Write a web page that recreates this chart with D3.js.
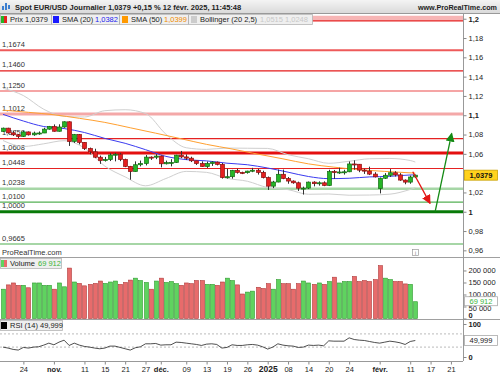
<!DOCTYPE html>
<html>
<head>
<meta charset="utf-8">
<script src="https://cdn.jsdelivr.net/npm/d3@7"></script>
<style>
body { margin: 0; background: #fff; }
svg { display: block; font-family: "Liberation Sans", Arial, sans-serif; }
</style>
</head>
<body>
<svg id="graph" width="500" height="375"></svg>
<script>
// séances : du 18/10/2024 au 28/02/2025, sans week-ends ni jours fériés
const premierJour = "2024-10-18";
const dernierJour = "2025-02-28";
const feries = ["2024-12-25", "2025-01-01"];

// bougies EUR/USD journalières
const ouverture = [1.0833,1.0866,1.0817,1.0797,1.0781,1.0827,1.0797,1.0815,1.0816,1.0856,
  1.0884,1.0834,1.0878,1.0932,1.0729,1.0800,1.0719,1.0655,1.0621,1.0565,
  1.0530,1.0541,1.0588,1.0596,1.0542,1.0470,1.0417,1.0487,1.0500,1.0566,
  1.0565,1.0577,1.0497,1.0509,1.0511,1.0586,1.0568,1.0555,1.0528,1.0500,
  1.0469,1.0500,1.0514,1.0491,1.0354,1.0363,1.0428,1.0408,1.0405,1.0421,
  1.0430,1.0408,1.0354,1.0265,1.0308,1.0388,1.0344,1.0318,1.0300,1.0244,
  1.0245,1.0307,1.0291,1.0300,1.0272,1.0416,1.0410,1.0412,1.0414,1.0495,
  1.0492,1.0431,1.0422,1.0390,1.0240,1.0347,1.0378,1.0404,1.0382,1.0328,
  1.0307,1.0360];
const haut = [1.0872,1.0870,1.0836,1.0805,1.0838,1.0832,1.0830,1.0832,1.0870,1.0889,
  1.0905,1.0906,1.0937,1.0937,1.0806,1.0805,1.0722,1.0665,1.0653,1.0582,
  1.0568,1.0607,1.0610,1.0610,1.0550,1.0475,1.0522,1.0530,1.0587,1.0574,
  1.0597,1.0583,1.0530,1.0545,1.0590,1.0630,1.0594,1.0570,1.0530,1.0522,
  1.0520,1.0524,1.0520,1.0505,1.0445,1.0434,1.0445,1.0415,1.0425,1.0455,
  1.0445,1.0425,1.0365,1.0320,1.0437,1.0437,1.0360,1.0325,1.0312,1.0260,
  1.0313,1.0316,1.0315,1.0315,1.0435,1.0433,1.0456,1.0435,1.0521,1.0533,
  1.0494,1.0445,1.0467,1.0410,1.0355,1.0400,1.0442,1.0420,1.0400,1.0335,
  1.0375,1.0385];
const bas = [1.0826,1.0810,1.0785,1.0761,1.0775,1.0790,1.0787,1.0798,1.0815,1.0850,
  1.0830,1.0830,1.0870,1.0682,1.0713,1.0698,1.0640,1.0595,1.0555,1.0496,
  1.0520,1.0525,1.0522,1.0524,1.0462,1.0332,1.0415,1.0470,1.0480,1.0537,
  1.0545,1.0460,1.0490,1.0470,1.0505,1.0555,1.0537,1.0515,1.0485,1.0466,
  1.0454,1.0475,1.0480,1.0343,1.0343,1.0343,1.0395,1.0390,1.0395,1.0410,
  1.0385,1.0345,1.0226,1.0245,1.0305,1.0337,1.0290,1.0290,1.0215,1.0178,
  1.0235,1.0263,1.0270,1.0265,1.0266,1.0340,1.0392,1.0385,1.0410,1.0435,
  1.0410,1.0392,1.0380,1.0355,1.0190,1.0340,1.0360,1.0365,1.0320,1.0285,
  1.0290,1.0350];
const cloture = [1.0866,1.0817,1.0797,1.0781,1.0827,1.0797,1.0815,1.0816,1.0856,1.0884,
  1.0834,1.0878,1.0932,1.0729,1.0800,1.0719,1.0655,1.0621,1.0565,1.0530,
  1.0541,1.0588,1.0596,1.0542,1.0470,1.0417,1.0487,1.0500,1.0566,1.0565,
  1.0577,1.0497,1.0509,1.0511,1.0586,1.0568,1.0555,1.0528,1.0500,1.0469,
  1.0500,1.0514,1.0491,1.0354,1.0363,1.0428,1.0408,1.0405,1.0421,1.0430,
  1.0408,1.0354,1.0265,1.0308,1.0388,1.0344,1.0318,1.0300,1.0244,1.0245,
  1.0307,1.0291,1.0300,1.0272,1.0416,1.0410,1.0412,1.0414,1.0495,1.0492,
  1.0431,1.0422,1.0390,1.0362,1.0347,1.0378,1.0404,1.0382,1.0328,1.0307,
  1.0360,1.0379];
const cloturePrecedente = 1.0833;

// volume et RSI (14)
const volume = [122000,140000,148000,138000,138000,128000,148000,148000,138000,138000,
  122000,148000,132000,210000,152000,146000,136000,142000,146000,156000,
  146000,152000,156000,142000,150000,160000,168000,158000,150000,122000,
  156000,168000,150000,154000,145000,138000,148000,145000,158000,158000,
  142000,142000,138000,152000,168000,158000,140000,102000,110000,114000,
  130000,125000,145000,122000,162000,145000,145000,122000,145000,156000,
  148000,142000,148000,142000,154000,172000,148000,154000,154000,175000,
  154000,158000,154000,162000,220000,168000,162000,154000,154000,144000,
  142000,69912];
const rsi = [30,27,23,21,29,27,30,31,36,42,37,45,51,35,42,36,32,30,27,25,
  27,33,33,29,25,21,28,31,40,40,41,36,37,37,45,44,42,40,38,35,
  39,40,38,27,29,37,35,35,37,38,36,31,24,30,40,36,34,33,29,30,
  36,35,36,34,49,48,48,48,58,53,51,50,47,44,42,45,48,46,43,38,
  47,50];

// moyennes mobiles et Bollinger (20 2,5)
const idxSma20 = [0,4,8,12,16,20,24,28,32,36,40,44,48,52,56,60,64,68,72,76,80,81];
const sma20 = [1.1009,1.0940,1.0883,1.0862,1.0821,1.0760,1.0709,1.0643,1.0574,1.0540,1.0527,
  1.0503,1.0487,1.0453,1.0410,1.0365,1.0343,1.0347,1.0361,1.0367,1.0381,1.0382];
const bollHaut = [1.1280,1.1204,1.1062,1.0988,1.0982,1.1047,1.1057,1.1018,1.0804,1.0663,1.0646,
  1.0660,1.0658,1.0656,1.0591,1.0549,1.0502,1.0523,1.0549,1.0552,1.0531,1.0515];
const bollBas = [1.0738,1.0676,1.0704,1.0736,1.0660,1.0473,1.0361,1.0269,1.0344,1.0418,1.0408,
  1.0346,1.0316,1.0250,1.0229,1.0181,1.0184,1.0171,1.0173,1.0182,1.0231,1.0248];
const idxSma50 = [0,5,10,15,20,25,30,35,40,45,49,55,60,65,70,75,81];
const sma50 = [1.1053,1.1030,1.1005,1.0968,1.0926,1.0870,1.0814,1.0756,1.0698,1.0650,1.0608,
  1.0548,1.0496,1.0462,1.0436,1.0418,1.0400];

// niveaux horizontaux tracés sur le graphique
const niveaux = [1.2005, 1.1978, 1.1674, 1.1460, 1.1250, 1.1012, 1.0758, 1.0608, 1.0448, 1.0238, 1.0100, 1.0000, 0.9665];
const niveauxTexte = ["", "", "1,1674", "1,1460", "1,1250", "1,1012", "1,0758", "1,0608", "1,0448", "1,0238", "1,0100", "1,0000", "0,9665"];

// flèches (séance, prix) : début -> fin
const flecheRouge = [[80.5, 1.0415], [83.9, 1.0087]];
const flecheVerte = [[84.9, 1.0000], [88.15, 1.0812]];

// axe des dates
const tickDates = ["2024-10-24","2024-11-01","2024-11-11","2024-11-15","2024-11-21","2024-11-27",
  "2024-12-02","2024-12-09","2024-12-13","2024-12-19","2024-12-26","2025-01-02","2025-01-08",
  "2025-01-14","2025-01-20","2025-01-24","2025-02-03","2025-02-11","2025-02-17","2025-02-21"];
const tickTextes = ["24","nov.","11","15","21","27","déc.","09","13","19","26","2025","08",
  "14","20","24","févr.","11","17","21"];
const tickMois = ["nov.","déc.","2025","févr."];

// ---------------------------------------------------------------
const fmtJour = d3.utcFormat("%Y-%m-%d");
const seances = d3.utcDay.range(new Date(premierJour), d3.utcDay.offset(new Date(dernierJour), 1))
  .filter(d => d.getUTCDay() != 0 && d.getUTCDay() != 6 && !feries.includes(fmtJour(d)))
  .map(fmtJour);

const bougies = ouverture.map((o, i) => ({
  i: i, o: o, h: haut[i], l: bas[i], c: cloture[i], v: volume[i], rsi: rsi[i],
  hausse: cloture[i] >= (i == 0 ? cloturePrecedente : cloture[i - 1])
}));

const fr = d3.formatLocale({decimal: ",", thousands: " ", grouping: [3], currency: ["", "€"]});
const virgule = v => String(+v.toFixed(4)).replace(".", ",");

const svg = d3.select("#graph");
const droite = 463;

const x = d3.scaleLinear().domain([-0.59, 90.37]).range([0, droite]);
const yPrix = d3.scaleLinear().domain([0.9531, 1.2049]).range([257, 14]);
const yVol = d3.scaleLinear().domain([0, 252000]).range([318.5, 258]);
const yRsi = d3.scaleLinear().domain([-12.1, 112.1]).range([361, 320]);

// fond du bandeau
const defs = svg.append("defs");
const grad = defs.append("linearGradient").attr("id", "bandeau").attr("x1", 0).attr("y1", 0).attr("x2", 0).attr("y2", 1);
grad.append("stop").attr("offset", 0).attr("stop-color", "#f4f4f4");
grad.append("stop").attr("offset", 1).attr("stop-color", "#d8d8d8");

svg.append("rect").attr("x", 0).attr("y", 0).attr("width", 500).attr("height", 14).attr("fill", "url(#bandeau)");
svg.append("line").attr("x1", 0).attr("x2", 500).attr("y1", 13.5).attr("y2", 13.5).attr("stroke", "#999");

// icône du bandeau
[[2, 6, 4], [5, 3, 7], [8, 5, 4]].forEach(b => {
  svg.append("rect").attr("x", b[0]).attr("y", b[1]).attr("width", 2).attr("height", b[2]).attr("fill", "#3d7fd0");
});
svg.append("text").attr("x", 15).attr("y", 9.5).attr("font-size", 7.5).attr("font-weight", "bold").attr("fill", "#222")
  .text("Spot EUR/USD Journalier 1,0379 +0,15 % 12 févr. 2025, 11:45:48");
svg.append("text").attr("x", 497).attr("y", 9.5).attr("font-size", 7.2).attr("font-weight", "bold").attr("fill", "#222")
  .attr("text-anchor", "end").text("www.ProRealTime.com");

// séparations des panneaux
[257.5, 319.5].forEach(y => {
  svg.append("line").attr("x1", 0).attr("x2", 500).attr("y1", y).attr("y2", y).attr("stroke", "#a0a0a0");
});

// ------------------- panneau des prix -------------------
const prix = svg.append("g");
const styleNiveaux = [
  {c: "#f7b5b5", w: 5}, {c: "#e52222", w: 1.2}, {c: "#ee5a5a", w: 2}, {c: "#e41b1b", w: 1.2},
  {c: "#f5a5a5", w: 2}, {c: "#f4a8a8", w: 3}, {c: "#e52222", w: 1.2}, {c: "#e40f0f", w: 3},
  {c: "#e52222", w: 1}, {c: "#a6d6a6", w: 2.5}, {c: "#55b055", w: 1.2}, {c: "#087a08", w: 3},
  {c: "#a6d6a6", w: 2}
];
prix.selectAll(".niveau")
  .data(niveaux)
  .join("line")
  .attr("class", "niveau")
  .attr("x1", 0).attr("x2", droite)
  .attr("y1", d => yPrix(d)).attr("y2", d => yPrix(d))
  .attr("stroke", (d, i) => styleNiveaux[i].c)
  .attr("stroke-width", (d, i) => styleNiveaux[i].w);

prix.selectAll(".niveauTexte")
  .data(niveaux)
  .join("text")
  .attr("class", "niveauTexte")
  .attr("x", 2)
  .attr("y", d => yPrix(d) - 3.5)
  .attr("font-size", 7.5)
  .attr("fill", "#333")
  .text((d, i) => niveauxTexte[i]);

// Bollinger et moyennes mobiles
const ligne = (idx, vals) => d3.line().curve(d3.curveMonotoneX)
  .x((d, k) => x(idx[k])).y(d => yPrix(d))(vals);
prix.append("path").attr("d", ligne(idxSma20, bollHaut)).attr("fill", "none").attr("stroke", "#cfcfcf").attr("stroke-width", 1);
prix.append("path").attr("d", ligne(idxSma20, bollBas)).attr("fill", "none").attr("stroke", "#cfcfcf").attr("stroke-width", 1);
prix.append("path").attr("d", ligne(idxSma50, sma50)).attr("fill", "none").attr("stroke", "#ffa030").attr("stroke-width", 1);
prix.append("path").attr("d", ligne(idxSma20, sma20)).attr("fill", "none").attr("stroke", "#3b3bf0").attr("stroke-width", 1);

// bougies
const bougie = prix.selectAll(".bougie")
  .data(bougies)
  .join("g")
  .attr("class", "bougie")
  .attr("transform", d => `translate(${Math.round(x(d.i)) + 0.5},0)`);
bougie.append("line")
  .attr("y1", d => yPrix(d.h)).attr("y2", d => yPrix(d.l))
  .attr("stroke", "#333").attr("stroke-width", 1);
bougie.append("rect")
  .attr("x", -2).attr("width", 4)
  .attr("y", d => yPrix(Math.max(d.o, d.c)))
  .attr("height", d => Math.max(1, Math.abs(yPrix(d.o) - yPrix(d.c))))
  .attr("fill", d => d.c >= d.o ? "#26b526" : "#e52020")
  .attr("stroke", d => d.c >= d.o ? "#136b13" : "#8a1010")
  .attr("stroke-width", 0.7);

// flèches
const marque = (id, coul) => {
  defs.append("marker").attr("id", id).attr("viewBox", "0 0 10 10").attr("refX", 9).attr("refY", 5)
    .attr("markerWidth", 7).attr("markerHeight", 7).attr("orient", "auto")
    .append("path").attr("d", "M0,0 L10,5 L0,10 z").attr("fill", coul);
};
marque("pointeRouge", "#e41414");
marque("pointeVerte", "#148a14");
[[flecheRouge, "#e41414", "pointeRouge"], [flecheVerte, "#148a14", "pointeVerte"]].forEach(f => {
  prix.append("line")
    .attr("x1", x(f[0][0][0])).attr("y1", yPrix(f[0][0][1]))
    .attr("x2", x(f[0][1][0])).attr("y2", yPrix(f[0][1][1]))
    .attr("stroke", f[1]).attr("stroke-width", 1.3)
    .attr("marker-end", `url(#${f[2]})`);
});

// ProRealTime.com et icône info
svg.append("text").attr("x", 2).attr("y", 255).attr("font-size", 7.5).attr("fill", "#333").text("ProRealTime.com");
svg.append("rect").attr("x", 412.5).attr("y", 249.5).attr("width", 6).attr("height", 6).attr("fill", "#fff").attr("stroke", "#999").attr("stroke-width", 0.7);
svg.append("text").attr("x", 415.5).attr("y", 254.8).attr("font-size", 5).attr("text-anchor", "middle").attr("fill", "#777").text("i");

// ------------------- volume -------------------
svg.append("g").selectAll("rect")
  .data(bougies)
  .join("rect")
  .attr("x", d => Math.round(x(d.i)) - 1.5)
  .attr("width", 4)
  .attr("y", d => yVol(d.v))
  .attr("height", d => yVol(0) - yVol(d.v))
  .attr("fill", d => d.hausse ? "#5fd35f" : "#e86b6b")
  .attr("stroke", d => d.hausse ? "#2f9a2f" : "#b03a3a")
  .attr("stroke-width", 0.6);

// ------------------- RSI -------------------
[30, 70].forEach(n => {
  svg.append("line").attr("x1", 0).attr("x2", droite).attr("y1", yRsi(n)).attr("y2", yRsi(n))
    .attr("stroke", "#aaa").attr("stroke-dasharray", "2,2").attr("stroke-width", 0.8);
});
svg.append("path")
  .attr("d", d3.line().x(d => x(d.i)).y(d => yRsi(d.rsi))(bougies))
  .attr("fill", "none").attr("stroke", "#222").attr("stroke-width", 0.8);

// ------------------- axes -------------------
svg.append("line").attr("x1", droite + 0.5).attr("x2", droite + 0.5).attr("y1", 14).attr("y2", 361).attr("stroke", "#999");

// la graduation cachée par l'étiquette jaune n'est pas écrite
const ticksPrix = d3.range(0.96, 1.2001, 0.02).filter(v => Math.abs(yPrix(v) - yPrix(cloture[81])) > 7);
const axePrix = svg.append("g").attr("transform", `translate(${droite + 0.5},0)`)
  .call(d3.axisRight(yPrix).tickValues(ticksPrix).tickSize(3).tickFormat(d => virgule(d)));
const axeVol = svg.append("g").attr("transform", `translate(${droite + 0.5},0)`)
  .call(d3.axisRight(yVol).tickValues([0, 50000, 100000, 150000, 200000]).tickSize(3).tickFormat(d => fr.format(",")(d)));
const axeRsi = svg.append("g").attr("transform", `translate(${droite + 0.5},0)`)
  .call(d3.axisRight(yRsi).tickValues([0, 100]).tickSize(3));

const tickIdx = tickDates.map(d => seances.indexOf(d));
const axeX = svg.append("g").attr("transform", "translate(0,361.5)")
  .call(d3.axisBottom(x).tickValues(tickIdx).tickSize(3).tickFormat((d, k) => tickTextes[k]));

[axePrix, axeVol, axeRsi, axeX].forEach(a => {
  a.select(".domain").remove();
  a.selectAll("line").attr("stroke", "#888");
  a.selectAll("text").attr("font-family", "Liberation Sans, Arial, sans-serif").attr("font-size", 7.5).attr("fill", "#222");
});
axePrix.selectAll("text").attr("x", 5)
  .attr("font-weight", d => [1.2, 1.1, 1].some(v => Math.abs(v - d) < 1e-6) ? "bold" : "normal");
axeVol.selectAll("text").attr("x", 5)
  .attr("font-weight", d => d == 0 ? "bold" : "normal")
  .attr("y", d => d == 0 ? -3.5 : (d == 50000 ? 1.5 : 0));
axeRsi.selectAll("text").attr("x", 5).attr("font-weight", "bold");
axeX.selectAll("text").attr("dy", "0.55em")
  .attr("font-weight", (d, k) => tickMois.includes(tickTextes[k]) ? "bold" : "normal")
  .attr("font-size", (d, k) => tickTextes[k] == "2025" ? 8.5 : 7.5);
axeX.append("line").attr("x1", 0).attr("x2", droite).attr("stroke", "#999");

// ------------------- étiquettes de valeur à droite -------------------
const etiquette = (y, txt, fond, bord, coul, gras, h) => {
  svg.append("rect").attr("x", 464.5).attr("y", y - h / 2).attr("width", 33).attr("height", h)
    .attr("fill", fond).attr("stroke", bord).attr("stroke-width", 0.8);
  svg.append("text").attr("x", 481).attr("y", y + 2.8).attr("text-anchor", "middle")
    .attr("font-size", 7.5).attr("font-weight", gras ? "bold" : "normal").attr("fill", coul).text(txt);
};
etiquette(yPrix(cloture[81]), virgule(cloture[81]), "#ffd21c", "#c9a000", "#111", true, 10);
etiquette(yVol(volume[81]) - 0.5, fr.format(",")(volume[81]), "#fff", "#aaa", "#3bb53b", false, 9);
etiquette(yRsi(rsi[81]), "49,999", "#fff", "#aaa", "#222", false, 10);

// ------------------- légendes -------------------
const legende = svg.append("g");
legende.append("rect").attr("x", 0.5).attr("y", 14.5).attr("width", 312).attr("height", 10)
  .attr("fill", "#efefef").attr("stroke", "#b5b5b5").attr("stroke-width", 0.8);
[51.5, 119.5, 188.5].forEach(s => {
  legende.append("line").attr("x1", s).attr("x2", s).attr("y1", 14.5).attr("y2", 24.5).attr("stroke", "#b5b5b5");
});
const carre = (g, xx, y, coul) => g.append("rect").attr("x", xx).attr("y", y).attr("width", 6).attr("height", 7).attr("fill", coul);
const texte = (g, xx, y, coul, t) => g.append("text").attr("x", xx).attr("y", y).attr("font-size", 7.5).attr("fill", coul).text(t);
carre(legende, 1, 16, "#e52020"); carre(legende, 1, 16, "#26b526").attr("width", 3);
texte(legende, 10, 22.3, "#222", "Prix 1,0379");
carre(legende, 53, 16, "#1a1aff");
texte(legende, 62, 22.3, "#222", "SMA (20)"); texte(legende, 95, 22.3, "#2222ee", "1,0382");
carre(legende, 122, 16, "#ff9900");
texte(legende, 131, 22.3, "#222", "SMA (50)"); texte(legende, 164, 22.3, "#f08c00", "1,0399");
carre(legende, 191, 16, "#cccccc");
texte(legende, 200, 22.3, "#222", "Bollinger (20 2,5)"); texte(legende, 260, 22.3, "#c8c8c8", "1,0515 1,0248");

const legVol = svg.append("g");
legVol.append("rect").attr("x", 0.5).attr("y", 258.5).attr("width", 61).attr("height", 10)
  .attr("fill", "#efefef").attr("stroke", "#b5b5b5").attr("stroke-width", 0.8);
carre(legVol, 1, 260, "#e86b6b"); carre(legVol, 1, 260, "#5fd35f").attr("width", 3);
texte(legVol, 10, 266.3, "#222", "Volume"); texte(legVol, 38, 266.3, "#3bb53b", "69 912");

const legRsi = svg.append("g");
legRsi.append("rect").attr("x", 0.5).attr("y", 320.5).attr("width", 62).attr("height", 10)
  .attr("fill", "#efefef").attr("stroke", "#b5b5b5").attr("stroke-width", 0.8);
carre(legRsi, 1, 322, "#000");
texte(legRsi, 10, 328.3, "#222", "RSI (14) 49,999");
</script>
</body>
</html>
